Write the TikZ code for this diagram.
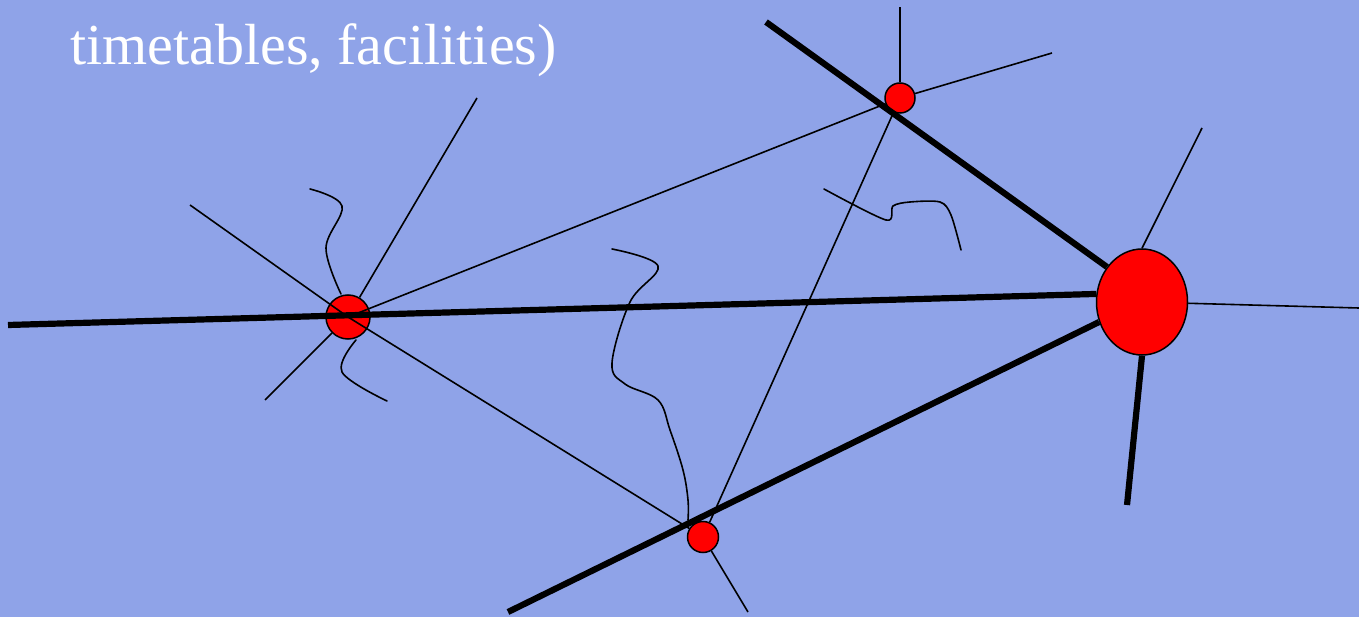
\documentclass[tikz,border=0pt]{standalone}
\usepackage{fontspec}
\setmainfont{Liberation Serif}
\usepackage{tikz}
\usetikzlibrary{shapes.geometric}
\definecolor{slideblue}{RGB}{143,163,232}
\definecolor{stnred}{RGB}{255,0,0}
\tikzset{
  stn/.style   ={circle, draw=black, fill=stnred, line width=1.5pt, inner sep=0pt},
  hub/.style   ={ellipse, draw=black, fill=stnred, line width=1.5pt, inner sep=0pt,
                 minimum width=91pt, minimum height=106pt},
  road/.style  ={draw=black, line width=6.2pt},
  link/.style  ={draw=black, line width=1.6pt},
  river/.style ={draw=black, line width=1.6pt, line cap=round},
  caption/.style={text=white, font=\fontsize{58}{70}\selectfont, inner sep=0pt, anchor=base west},
}
\begin{document}
\begin{tikzpicture}[x=1pt,y=-1pt]
\fill[slideblue] (0,0) rectangle (1359,617);
\useasboundingbox (0,0) rectangle (1359,617);

\node[caption] (cap) at (70,65) {timetables, facilities)};

% stations
\node[stn,minimum size=44pt] (A) at (348,317) {};
\node[stn,minimum size=30pt] (B) at (900,98) {};
\node[stn,minimum size=31pt] (C) at (703,537) {};
\node[hub] (D) at (1142,302) {};

% free ends
\coordinate (w) at (8,325);
\coordinate (nw) at (766,22);
\coordinate (sw) at (508,612);
\coordinate (s) at (1127,505);
\coordinate (a1) at (190,205);
\coordinate (a2) at (477,98);
\coordinate (a3) at (265,400);
\coordinate (b1) at (900,7);
\coordinate (b2) at (1052,53);
\coordinate (c1) at (748,612);
\coordinate (d1) at (1202,128);
\coordinate (d2) at (1359,308);

% thin links
\draw[link] (a1) -- (A.center); \draw[link] (A) -- (a2); \draw[link] (A) -- (a3);
\draw[link] (A.center) -- (B); \draw[link] (A.center) -- (C);
\draw[link] (B) -- (b1); \draw[link] (B) -- (b2); \draw[link] (B) -- (C);
\draw[link] (C) -- (c1);
\draw[link] (D.north) -- (d1); \draw[link] (D) -- (d2);

% main roads
\draw[road] (w) -- (D.170);
\draw[road] (nw) -- (D.135);
\draw[road] (sw) -- (D.205);
\draw[road] (D.south) -- (s);

% rivers
\draw[river] plot[smooth,tension=0.6] coordinates {(310,189) (342,206) (326,248) (341,294)};
\draw[river] plot[smooth,tension=0.6] coordinates {(356,340) (342,372) (387,401)};
\draw[river] plot[smooth,tension=0.6] coordinates {(612,249) (658,266) (630,302) (612,363) (625,384) (658,400) (670,430) (683,470) (688,500) (688,520)};
\draw[river] plot[smooth,tension=0.5] coordinates {(824,189) (886,220) (893,206) (910,202) (940,202) (951,215) (961,250)};
\end{tikzpicture}
\end{document}
